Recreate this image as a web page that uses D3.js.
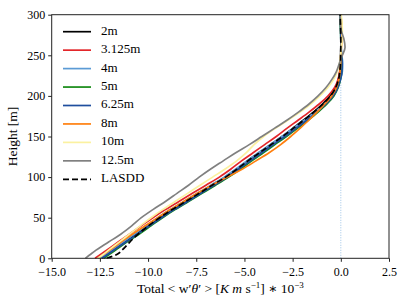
<!DOCTYPE html>
<html>
<head>
<meta charset="utf-8">
<script src="https://cdn.jsdelivr.net/npm/d3@7"></script>
<style>
  body { margin: 0; background: #fff; }
  svg text { font-family: 'Liberation Serif', 'DejaVu Serif', 'Times New Roman', serif !important; fill: #000; }
</style>
</head>
<body>
<div id="chart"></div>
<script>
// heights [m]
const heights = [0, 5, 10, 20, 30, 40, 50, 60, 70, 80, 90, 100, 110, 120, 130, 140, 150,
  160, 170, 180, 190, 200, 210, 220, 230, 240, 250, 260, 270, 280, 290, 300];

// total <w'theta'> * 1e-3 per resolution
const flux2m = [-12.4, -12.1, -11.8, -11.2, -10.6, -10.0, -9.4, -8.75, -8.05, -7.35, -6.7, -6.0,
  -5.4, -4.85, -4.25, -3.65, -3.05, -2.5, -1.95, -1.42, -0.95, -0.55, -0.28, -0.13, -0.05,
  -0.02, -0.01, 0.0, 0.01, 0.0, -0.01, -0.02];
const flux3125m = [-12.75, -12.45, -12.15, -11.55, -10.95, -10.35, -9.75, -9.1, -8.4, -7.7, -7.0,
  -6.3, -5.7, -5.15, -4.55, -3.95, -3.35, -2.8, -2.22, -1.65, -1.12, -0.66, -0.33, -0.15, -0.06,
  -0.02, 0.0, 0.01, 0.02, 0.01, -0.01, -0.02];
const flux4m = [-12.5, -12.2, -11.9, -11.3, -10.7, -10.1, -9.5, -8.85, -8.15, -7.45, -6.75, -6.05,
  -5.45, -4.88, -4.28, -3.67, -3.05, -2.48, -1.9, -1.35, -0.85, -0.45, -0.18, -0.02, 0.08, 0.1,
  0.05, 0.02, 0.0, -0.01, -0.02, -0.03];
const flux5m = [-12.3, -12.0, -11.7, -11.1, -10.45, -9.85, -9.25, -8.6, -7.9, -7.2, -6.5, -5.82,
  -5.2, -4.62, -4.02, -3.42, -2.82, -2.25, -1.7, -1.18, -0.72, -0.36, -0.14, -0.02, 0.04, 0.05,
  0.03, 0.01, 0.0, -0.01, -0.02, -0.02];
const flux625m = [-12.4, -12.08, -11.78, -11.15, -10.52, -9.92, -9.3, -8.65, -7.95, -7.25, -6.57,
  -5.88, -5.28, -4.7, -4.1, -3.5, -2.9, -2.33, -1.77, -1.24, -0.77, -0.4, -0.16, -0.02, 0.06, 0.07,
  0.04, 0.01, 0.0, 0.0, -0.01, -0.02];
const flux8m = [-12.6, -12.3, -12.0, -11.4, -10.8, -10.15, -9.5, -8.85, -8.15, -7.45, -6.7, -5.9,
  -5.1, -4.4, -3.72, -3.12, -2.6, -2.12, -1.66, -1.24, -0.83, -0.47, -0.23, -0.1, -0.04, -0.01,
  0.0, 0.03, 0.05, 0.06, 0.04, 0.0];
const flux10m = [-12.6, -12.32, -12.05, -11.5, -10.95, -10.4, -9.85, -9.25, -8.6, -7.95, -7.3,
  -6.65, -6.0, -5.4, -4.9, -4.5, -4.0, -3.4, -2.75, -2.12, -1.56, -1.08, -0.68, -0.38, -0.18,
  -0.07, -0.01, 0.03, 0.06, 0.08, 0.06, 0.02];
const flux125m = [-13.25, -12.98, -12.7, -12.05, -11.4, -10.85, -10.35, -9.75, -9.1, -8.5, -7.9,
  -7.35, -6.75, -6.1, -5.45, -4.75, -4.1, -3.45, -2.8, -2.2, -1.65, -1.18, -0.78, -0.47, -0.23,
  -0.08, 0.08, 0.22, 0.16, 0.03, -0.02, -0.03];
const fluxLASDD = [-12.15, -11.6, -11.35, -10.95, -10.5, -9.98, -9.4, -8.75, -8.05, -7.35, -6.68,
  -5.98, -5.38, -4.82, -4.22, -3.62, -3.02, -2.47, -1.92, -1.4, -0.93, -0.53, -0.27, -0.12,
  -0.05, -0.02, -0.01, 0.0, 0.0, -0.01, -0.02, -0.03];

const seriesLabels = ['2m', '3.125m', '4m', '5m', '6.25m', '8m', '10m', '12.5m', 'LASDD'];
const xTicks = [-15, -12.5, -10, -7.5, -5, -2.5, 0, 2.5];
const yTicks = [0, 50, 100, 150, 200, 250, 300];

const series = [
  { label: seriesLabels[0], values: flux2m, color: '#000000' },
  { label: seriesLabels[1], values: flux3125m, color: '#e3262a' },
  { label: seriesLabels[2], values: flux4m, color: '#5b9bd5' },
  { label: seriesLabels[3], values: flux5m, color: '#138a13' },
  { label: seriesLabels[4], values: flux625m, color: '#1f4e9e' },
  { label: seriesLabels[5], values: flux8m, color: '#ff7f0e' },
  { label: seriesLabels[6], values: flux10m, color: '#fbf1a0' },
  { label: seriesLabels[7], values: flux125m, color: '#808080' },
  { label: seriesLabels[8], values: fluxLASDD, color: '#000000', dash: '6,3' }
];

const FONT = "'Liberation Serif', 'DejaVu Serif', 'Times New Roman', serif";
const W = 407, H = 305;
const m = { left: 51.7, right: 18, top: 14.7, bottom: 46.7 };

const svg = d3.select('#chart').append('svg')
  .attr('width', W).attr('height', H)
  .style('font-family', FONT);

const x = d3.scaleLinear().domain([-15, 2.5]).range([m.left, W - m.right]);
const y = d3.scaleLinear().domain([0, 300]).range([H - m.bottom, m.top]);

// zero line
svg.append('line')
  .attr('x1', x(0)).attr('x2', x(0))
  .attr('y1', y(0)).attr('y2', y(300))
  .attr('stroke', '#9cc3e6')
  .attr('stroke-width', 1)
  .attr('stroke-dasharray', '1,1.5');

const line = d3.line()
  .x(d => x(d[0]))
  .y(d => y(d[1]))
  .curve(d3.curveMonotoneY);

const plot = svg.append('g');
series.forEach(s => {
  plot.append('path')
    .datum(s.values.map((v, i) => [v, heights[i]]))
    .attr('d', line)
    .attr('fill', 'none')
    .attr('stroke', s.color)
    .attr('stroke-width', 1.7)
    .attr('stroke-dasharray', s.dash || null);
});

// frame
svg.append('rect')
  .attr('x', x(-15)).attr('y', y(300))
  .attr('width', x(2.5) - x(-15)).attr('height', y(0) - y(300))
  .attr('fill', 'none').attr('stroke', '#222').attr('stroke-width', 1);

// axes
const xAxis = svg.append('g')
  .attr('transform', `translate(0,${y(0)})`)
  .call(d3.axisBottom(x).tickValues(xTicks).tickSize(3.5).tickPadding(5)
    .tickFormat(d => d3.format('.1f')(d).replace('-', '\u2212')));
const yAxis = svg.append('g')
  .attr('transform', `translate(${x(-15)},0)`)
  .call(d3.axisLeft(y).tickValues(yTicks).tickSize(3.5).tickPadding(3));

[xAxis, yAxis].forEach(a => {
  a.attr('font-family', null).attr('font-size', null);
  a.select('.domain').remove();
  a.selectAll('line').attr('stroke', '#222');
  a.selectAll('text')
    .style('font-family', FONT)
    .style('font-size', '12px').attr('fill', '#000');
});
xAxis.selectAll('text').attr('dy', '0.78em');

// axis labels
svg.append('text')
  .attr('transform', `translate(14,${(y(0) + y(300)) / 2}) rotate(-90)`)
  .attr('text-anchor', 'middle')
  .attr('dominant-baseline', 'middle')
  .style('font-size', '13.5px')
  .text('Height [m]');

const xl = svg.append('text')
  .attr('x', (x(-15) + x(2.5)) / 2)
  .attr('y', 293)
  .attr('text-anchor', 'middle')
  .style('font-size', '13.5px');
xl.append('tspan').text('Total < w\u2032');
xl.append('tspan').attr('font-style', 'italic').text('\u03b8');
xl.append('tspan').text('\u2032 > [');
xl.append('tspan').attr('font-style', 'italic').text('K m');
xl.append('tspan').text(' s');
xl.append('tspan').style('font-size', '9px').attr('dy', -5).text('\u22121');
xl.append('tspan').attr('dy', 5).text('] \u2217 10');
xl.append('tspan').style('font-size', '9px').attr('dy', -5).text('\u22123');

// legend
const lg = svg.append('g').attr('transform', 'translate(63,31.7)');
series.forEach((s, i) => {
  const ig = lg.append('g').attr('transform', `translate(0,${i * 18.45})`);
  ig.append('line')
    .attr('x1', 0).attr('x2', 28)
    .attr('stroke', s.color)
    .attr('stroke-width', 1.7)
    .attr('stroke-dasharray', s.dash || null);
  ig.append('text')
    .attr('x', 38).attr('y', 0)
    .attr('dominant-baseline', 'middle')
    .style('font-size', '13px')
    .text(s.label);
});
</script>
</body>
</html>
